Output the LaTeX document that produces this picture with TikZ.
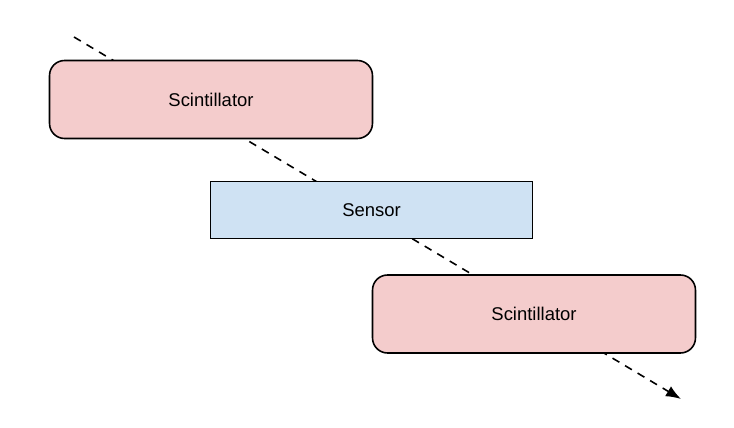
\documentclass[tikz,border=0pt]{standalone}
\usepackage{fontspec}
\setmainfont{Liberation Sans}
\usetikzlibrary{arrows.meta,positioning}
\definecolor{scintpink}{HTML}{F4CCCC}
\definecolor{sensorblue}{HTML}{CFE2F3}

\begin{document}
\begin{tikzpicture}[x=0.02cm, y=-0.02cm,
    scint/.style={rectangle, draw=black, line width=0.9pt, fill=scintpink,
        minimum width=6.46cm, minimum height=1.56cm, rounded corners=0.3cm,
        font=\fontsize{10.5}{12}\selectfont},
    sensorbox/.style={rectangle, draw=black, line width=0.9pt, fill=sensorblue,
        minimum width=6.44cm, minimum height=1.14cm,
        font=\fontsize{10.5}{12}\selectfont},
    track/.style={-{Latex[length=3mm, width=2.3mm]}, line width=0.9pt,
        dash pattern=on 4.5pt off 3.8pt}
]
    \useasboundingbox (0,0) rectangle (734,428);
    \coordinate (src) at (74,37);
    \coordinate (dst) at (681,399);

    % particle track, drawn first so the boxes cover it
    \draw[track] (src) -- (dst);

    \node[scint] (topscint) at (211,99.5) {Scintillator};
    \node[sensorbox] (sensor) at (371.5,210) {Sensor};
    \node[scint] (botscint) at (534,314) {Scintillator};
\end{tikzpicture}
\end{document}
